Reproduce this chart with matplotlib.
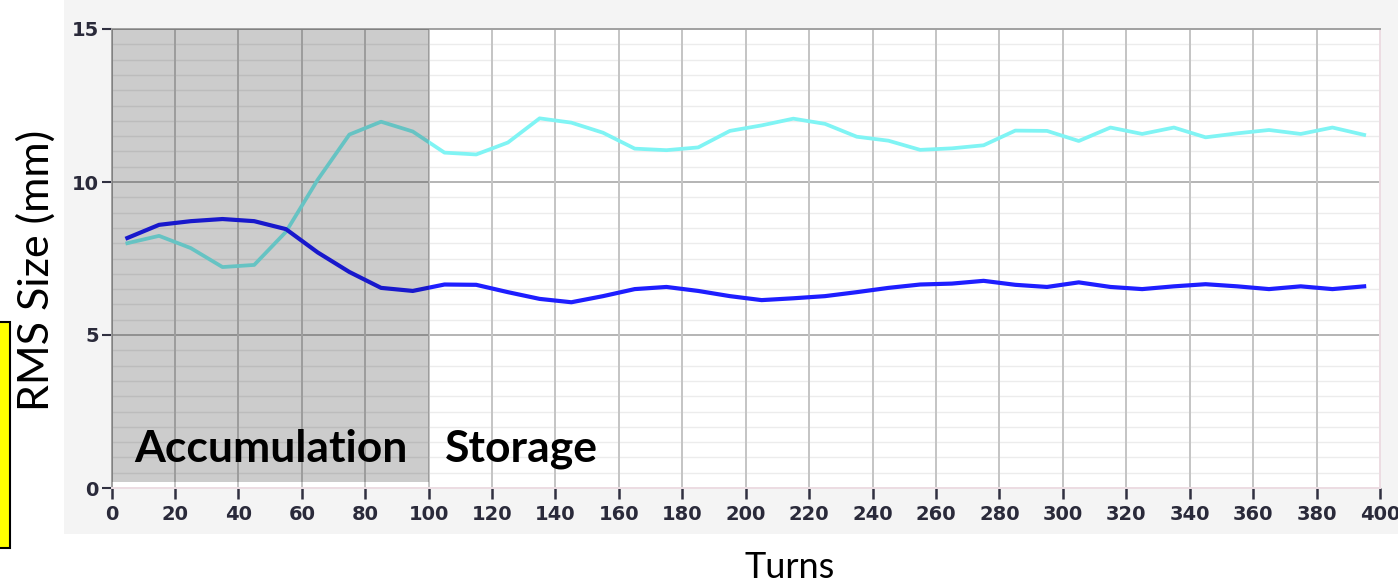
import matplotlib
matplotlib.use("Agg")
import matplotlib.pyplot as plt
from matplotlib.patches import Rectangle

# turn number of each sample
turns = [5, 15, 25, 35, 45, 55, 65, 75, 85, 95,
         105, 115, 125, 135, 145, 155, 165, 175, 185, 195,
         205, 215, 225, 235, 245, 255, 265, 275, 285, 295,
         305, 315, 325, 335, 345, 355, 365, 375, 385, 395]

# rms beam size per plane (mm)
rms_blue = [8.17, 8.60, 8.72, 8.79, 8.72, 8.46, 7.70, 7.06, 6.54, 6.44,
            6.65, 6.64, 6.40, 6.18, 6.07, 6.27, 6.50, 6.57, 6.44, 6.27,
            6.14, 6.20, 6.27, 6.40, 6.54, 6.65, 6.68, 6.77, 6.64, 6.57,
            6.72, 6.57, 6.50, 6.59, 6.66, 6.59, 6.50, 6.59, 6.50, 6.59]
rms_cyan = [8.00, 8.24, 7.84, 7.22, 7.29, 8.37, 10.07, 11.55, 11.97, 11.65,
            10.96, 10.90, 11.29, 12.08, 11.94, 11.61, 11.09, 11.04, 11.13, 11.67,
            11.85, 12.07, 11.90, 11.48, 11.35, 11.05, 11.10, 11.20, 11.68, 11.67,
            11.34, 11.78, 11.57, 11.78, 11.46, 11.59, 11.70, 11.57, 11.78, 11.54]

x_ticks = [0, 20, 40, 60, 80, 100, 120, 140, 160, 180, 200,
           220, 240, 260, 280, 300, 320, 340, 360, 380, 400]
y_ticks = [0, 5, 10, 15]
accum_end = 100

W, H = 1398, 587
fig = plt.figure(figsize=(W / 100, H / 100), dpi=100, facecolor="white")

# light grey panel behind the graph
fig.patches.append(Rectangle((64 / W, 1 - 534 / H), 1 - 64 / W, 534 / H,
                             transform=fig.transFigure, facecolor="#f4f4f4",
                             edgecolor="none", zorder=-2))
# yellow tab on the left edge
fig.patches.append(Rectangle((-0.01, 1 - 548 / H), 0.01 + 10 / W, 226 / H,
                             transform=fig.transFigure, facecolor="#ffff00",
                             edgecolor="black", linewidth=1.5, zorder=-1))

ax = fig.add_axes([111.5 / W, 1 - 488 / H, (1380 - 111.5) / W, (488 - 29) / H])
ax.set_facecolor("white")
ax.set_xlim(0, 400)
ax.set_ylim(0, 15)

# grid: fine horizontal lines every 0.5, stronger every 5, verticals every 20
for v in [i * 0.5 for i in range(1, 30)]:
    if v % 5:
        ax.axhline(v, color="#ececec", lw=1.0, zorder=1)
for v in [5, 10]:
    ax.axhline(v, color="#b4b4b4", lw=1.4, zorder=1.5)
for v in x_ticks[1:-1]:
    ax.axvline(v, color="#c4c4c4", lw=1.4, zorder=1.5)

ax.plot(turns, rms_cyan, color="#80f4f4", lw=2.7, zorder=3,
        solid_joinstyle="round")
ax.plot(turns, rms_blue, color="#1e1eff", lw=3.0, zorder=3,
        solid_joinstyle="round")

# darkened accumulation window
ax.add_patch(Rectangle((0, 0.2), accum_end, 14.8, facecolor="black",
                       alpha=0.2, edgecolor="none", zorder=4))

for side in ["left", "top"]:
    ax.spines[side].set_color("#a0a0a0")
    ax.spines[side].set_linewidth(1.4)
for side in ["right", "bottom"]:
    ax.spines[side].set_color("#ecdce2")
    ax.spines[side].set_linewidth(1.4)

ax.set_xticks(x_ticks)
ax.set_yticks(y_ticks)
ax.tick_params(axis="x", direction="out", length=8, width=1.8, color="#303040",
               pad=4, labelsize=14, labelcolor="#2a2a3a")
ax.tick_params(axis="y", direction="out", length=7, width=1.5, color="#303040",
               pad=2, labelsize=14, labelcolor="#2a2a3a")
for lab in ax.get_xticklabels() + ax.get_yticklabels():
    lab.set_fontweight("bold")

ax.text(7.2, 0.85, "Accumulation", fontsize=32, fontweight="bold",
        family="Lato", color="black", zorder=5)
ax.text(105, 0.85, "Storage", fontsize=32, fontweight="bold",
        family="Lato", color="black", zorder=5)

fig.text(36 / W, 1 - 270 / H, "RMS Size (mm)", rotation=90, ha="center",
         va="center", fontsize=31, family="Lato", color="black")
fig.text(790 / W, 1 - 567 / H, "Turns", ha="center", va="center",
         fontsize=26, family="Lato", color="black")

fig.savefig("out.png", dpi=100, facecolor="white")
